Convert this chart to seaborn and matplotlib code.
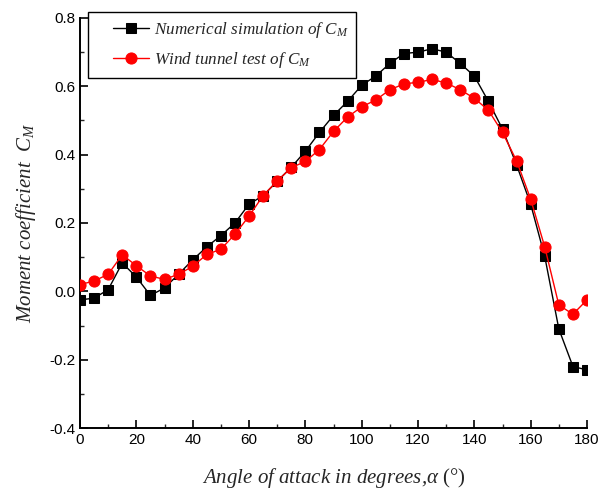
import matplotlib
matplotlib.use("Agg")
import matplotlib.pyplot as plt
import seaborn as sns
import numpy as np
import pandas as pd
from matplotlib.ticker import MultipleLocator
from matplotlib.legend_handler import HandlerLine2D

angles = list(range(0, 181, 5))
cm_numerical = [-0.025, -0.02, 0.005, 0.083, 0.042, -0.012, 0.01, 0.05, 0.092, 0.13,
                0.163, 0.2, 0.255, 0.28, 0.322, 0.363, 0.41, 0.465, 0.515, 0.556,
                0.603, 0.63, 0.667, 0.696, 0.7, 0.71, 0.7, 0.667, 0.63, 0.556,
                0.475, 0.37, 0.255, 0.102, -0.11, -0.22, -0.23]
cm_wind = [0.02, 0.03, 0.05, 0.107, 0.075, 0.045, 0.035, 0.05, 0.073, 0.108,
           0.123, 0.167, 0.22, 0.28, 0.323, 0.362, 0.38, 0.415, 0.468, 0.51,
           0.54, 0.56, 0.59, 0.607, 0.612, 0.62, 0.61, 0.59, 0.565, 0.53,
           0.465, 0.382, 0.27, 0.13, -0.04, -0.067, -0.025]
label_num = "Numerical simulation of $C_M$"
label_wind = "Wind tunnel test of $C_M$"

sns.set_style("ticks")
plt.rcParams['font.family'] = ['Liberation Sans', 'DejaVu Sans']
plt.rcParams['mathtext.fontset'] = 'custom'
plt.rcParams['mathtext.rm'] = 'Liberation Serif'
plt.rcParams['mathtext.it'] = 'Liberation Serif:italic'

fig = plt.figure(figsize=(5.99, 4.91), dpi=100)
ax = fig.add_axes([80/599, 63/491, 507/599, 410/491])

df_num = pd.DataFrame({"angle": angles, "cm": cm_numerical})
df_wind = pd.DataFrame({"angle": angles, "cm": cm_wind})

sns.lineplot(data=df_num, x="angle", y="cm", ax=ax, color="black", marker="s",
             markersize=6.5, markeredgecolor="black", linewidth=1.0, label=label_num, zorder=3)
sns.lineplot(data=df_wind, x="angle", y="cm", ax=ax, color="red", marker="o",
             markersize=8, markeredgecolor="red", linewidth=1.0, label=label_wind, zorder=4)

ax.set_xlim(0, 180)
ax.set_ylim(-0.4, 0.8)
ax.xaxis.set_major_locator(MultipleLocator(20))
ax.xaxis.set_minor_locator(MultipleLocator(10))
ax.yaxis.set_major_locator(MultipleLocator(0.2))
ax.yaxis.set_minor_locator(MultipleLocator(0.1))
ax.set_xticks(range(0, 181, 20))
ax.set_xticklabels([str(v) for v in range(0, 181, 20)])
ax.set_yticks([-0.4, -0.2, 0.0, 0.2, 0.4, 0.6, 0.8])
ax.set_yticklabels(["-0.4", "-0.2", "0.0", "0.2", "0.4", "0.6", "0.8"])
ax.tick_params(axis="both", which="major", direction="in", length=6, width=1.2,
               labelsize=11, colors="black")
ax.tick_params(axis="both", which="minor", direction="in", length=3, width=1.0)
for s in ["top", "right"]:
    ax.spines[s].set_visible(False)
for s in ["left", "bottom"]:
    ax.spines[s].set_linewidth(1.4)
    ax.spines[s].set_color("black")

ax.set_xlabel(r"Angle of attack in degrees,α $\mathrm{(°)}$", fontsize=15,
              family="Liberation Serif", style="italic", labelpad=14)
ax.set_ylabel("Moment coefficient  $C_M$", fontsize=15, family="Liberation Serif",
              style="italic", labelpad=8)

handles, labels = ax.get_legend_handles_labels()
hmap = {h: HandlerLine2D(xpad=1.0) for h in handles}
leg = ax.legend(handles, labels, loc="upper left", bbox_to_anchor=(8/507, 1 + 6/410),
                frameon=True, fancybox=False, edgecolor="black", framealpha=1,
                prop={"family": "Liberation Serif", "style": "italic", "size": 12.3},
                handlelength=3.1, handletextpad=0.3, borderpad=0.45,
                labelspacing=0.6, borderaxespad=0, handler_map=hmap)
leg.get_frame().set_linewidth(1.0)

fig.savefig("out.png", dpi=100)
